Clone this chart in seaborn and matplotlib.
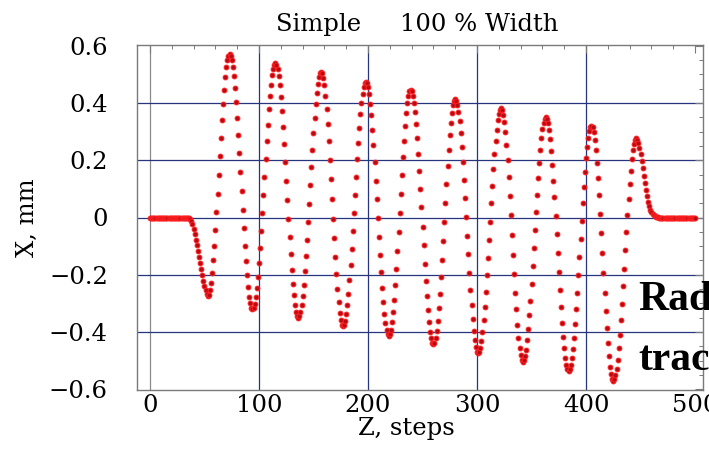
import numpy as np
import pandas as pd
import matplotlib
matplotlib.use("Agg")
import matplotlib.pyplot as plt
from matplotlib.ticker import MultipleLocator
import seaborn as sns

# 数据：每一步 Z 对应的 X（mm），从图上逐点读取
title = "Simple     100 % Width"
x_mm = [
    0, 0, 0, 0, 0, 0, 0, 0, 0, 0,
    0, 0, 0, 0, 0, 0, 0, 0, 0, 0,
    0, 0, 0, 0, 0, 0, 0, 0, 0, 0,
    0, 0, 0, 0, -0.001, -0.001, -0.002, -0.006, -0.013, -0.024,
    -0.040, -0.058, -0.077, -0.097, -0.117, -0.138, -0.159, -0.180, -0.201, -0.221,
    -0.239, -0.254, -0.266, -0.274, -0.269, -0.253, -0.228, -0.193, -0.150, -0.100,
    -0.044, 0.018, 0.082, 0.148, 0.214, 0.278, 0.340, 0.396, 0.446, 0.489,
    0.524, 0.549, 0.565, 0.570, 0.565, 0.550, 0.526, 0.493, 0.451, 0.403,
    0.348, 0.288, 0.224, 0.158, 0.092, 0.026, -0.038, -0.098, -0.153, -0.201,
    -0.243, -0.276, -0.300, -0.315, -0.320, -0.315, -0.301, -0.278, -0.245, -0.206,
    -0.159, -0.106, -0.048, 0.014, 0.077, 0.141, 0.204, 0.266, 0.324, 0.377,
    0.424, 0.463, 0.496, 0.519, 0.533, 0.538, 0.533, 0.518, 0.494, 0.461,
    0.420, 0.371, 0.316, 0.257, 0.193, 0.128, 0.061, -0.004, -0.068, -0.127,
    -0.182, -0.231, -0.272, -0.305, -0.329, -0.344, -0.349, -0.344, -0.330, -0.307,
    -0.274, -0.235, -0.188, -0.135, -0.077, -0.016, 0.048, 0.112, 0.176, 0.237,
    0.295, 0.348, 0.395, 0.434, 0.467, 0.490, 0.504, 0.509, 0.504, 0.487,
    0.461, 0.424, 0.379, 0.326, 0.266, 0.202, 0.134, 0.065, -0.005, -0.073,
    -0.137, -0.197, -0.250, -0.295, -0.332, -0.358, -0.375, -0.380, -0.375, -0.361,
    -0.338, -0.306, -0.266, -0.219, -0.167, -0.109, -0.048, 0.015, 0.079, 0.142,
    0.203, 0.261, 0.313, 0.360, 0.400, 0.432, 0.455, 0.469, 0.474, 0.469,
    0.454, 0.430, 0.397, 0.356, 0.307, 0.252, 0.193, 0.129, 0.064, -0.003,
    -0.068, -0.132, -0.191, -0.246, -0.295, -0.336, -0.369, -0.393, -0.408, -0.413,
    -0.408, -0.392, -0.366, -0.331, -0.287, -0.236, -0.179, -0.117, -0.051, 0.016,
    0.083, 0.149, 0.211, 0.268, 0.319, 0.363, 0.398, 0.424, 0.440, 0.445,
    0.440, 0.425, 0.401, 0.368, 0.327, 0.278, 0.223, 0.164, 0.100, 0.035,
    -0.032, -0.097, -0.161, -0.220, -0.275, -0.324, -0.365, -0.398, -0.422, -0.437,
    -0.442, -0.437, -0.421, -0.395, -0.360, -0.317, -0.266, -0.209, -0.147, -0.081,
    -0.015, 0.052, 0.118, 0.180, 0.236, 0.288, 0.331, 0.366, 0.392, 0.408,
    0.413, 0.408, 0.393, 0.369, 0.336, 0.295, 0.246, 0.192, 0.132, 0.069,
    0.003, -0.063, -0.129, -0.192, -0.252, -0.306, -0.355, -0.396, -0.429, -0.453,
    -0.468, -0.473, -0.468, -0.454, -0.431, -0.399, -0.359, -0.312, -0.260, -0.202,
    -0.141, -0.078, -0.014, 0.049, 0.110, 0.168, 0.220, 0.267, 0.307, 0.339,
    0.362, 0.376, 0.381, 0.376, 0.359, 0.333, 0.297, 0.252, 0.199, 0.140,
    0.076, 0.008, -0.061, -0.130, -0.198, -0.262, -0.321, -0.374, -0.419, -0.455,
    -0.481, -0.498, -0.503, -0.498, -0.484, -0.461, -0.429, -0.389, -0.342, -0.290,
    -0.232, -0.171, -0.108, -0.045, 0.018, 0.079, 0.137, 0.189, 0.236, 0.276,
    0.308, 0.331, 0.345, 0.350, 0.345, 0.330, 0.306, 0.273, 0.232, 0.184,
    0.129, 0.070, 0.006, -0.059, -0.125, -0.190, -0.254, -0.313, -0.368, -0.416,
    -0.457, -0.490, -0.514, -0.529, -0.534, -0.529, -0.515, -0.492, -0.460, -0.420,
    -0.373, -0.321, -0.263, -0.202, -0.139, -0.075, -0.012, 0.049, 0.107, 0.159,
    0.206, 0.246, 0.278, 0.301, 0.315, 0.320, 0.315, 0.298, 0.272, 0.235,
    0.190, 0.137, 0.077, 0.013, -0.055, -0.125, -0.194, -0.262, -0.326, -0.386,
    -0.439, -0.484, -0.521, -0.547, -0.564, -0.569, -0.564, -0.550, -0.527, -0.496,
    -0.456, -0.410, -0.358, -0.301, -0.240, -0.178, -0.114, -0.052, 0.009, 0.066,
    0.118, 0.164, 0.203, 0.235, 0.258, 0.272, 0.277, 0.272, 0.260, 0.243,
    0.222, 0.198, 0.172, 0.146, 0.120, 0.096, 0.074, 0.055, 0.039, 0.027,
    0.018, 0.011, 0.007, 0.004, 0.002, 0.001, 0.001, 0, 0, 0,
    0, 0, 0, 0, 0, 0, 0, 0, 0, 0,
    0, 0, 0, 0, 0, 0, 0, 0, 0, 0,
    0, 0, 0, 0, 0, 0, 0, 0, 0, 0,
    0,
]
z_steps = list(range(len(x_mm)))  # Z = 0 .. 500 steps
x_ticks = [0, 100, 200, 300, 400, 500]
y_ticks = [-0.6, -0.4, -0.2, 0, 0.2, 0.4, 0.6]
y_ticklabels = ["\u22120.6", "\u22120.4", "\u22120.2", "0", "0.2", "0.4", "0.6"]
side_text = ["Rad", "trac"]

df = pd.DataFrame({"Z": z_steps, "X": x_mm})

sns.set_style("white")
plt.rcParams['font.family'] = ['DejaVu Serif']
plt.rcParams['axes.unicode_minus'] = True
plt.rcParams['text.color'] = 'black'
plt.rcParams['xtick.labelcolor'] = 'black'
plt.rcParams['ytick.labelcolor'] = 'black'

fig = plt.figure(figsize=(7.09, 4.57), dpi=100)
ax = fig.add_axes([137/709, 1-390/457, 566/709, 345/457])

# 网格线（深蓝），Z=0 处为灰线
for v in x_ticks[1:-1]:
    ax.axvline(v, color='#26357d', lw=0.9, zorder=0)
ax.axvline(0, color='#8a8a8a', lw=0.9, zorder=0)
for v in y_ticks[1:-1]:
    ax.axhline(v, color='#26357d', lw=0.9, zorder=0)

sns.scatterplot(data=df, x="Z", y="X", ax=ax, s=12, color='#b80a14',
                edgecolor='#ff2020', linewidth=0.7, legend=False, zorder=3)

ax.set_xlim(-11.9, 507.3)
ax.set_ylim(-0.602, 0.602)
ax.set_xticks(x_ticks)
ax.set_yticks(y_ticks)
ax.set_yticklabels(y_ticklabels)
ax.xaxis.set_minor_locator(MultipleLocator(20))
ax.yaxis.set_minor_locator(MultipleLocator(0.05))
ax.tick_params(which='both', direction='in', top=True, right=True, color='#7a7a7a',
               labelcolor='black')
ax.tick_params(which='major', length=6, width=0.8, labelsize=17.5)
ax.tick_params(which='minor', length=3, width=0.7)
ax.tick_params(axis='y', pad=21)
ax.tick_params(axis='x', pad=3)
for sp in ax.spines.values():
    sp.set_color('#7a7a7a')
    sp.set_linewidth(1.0)
ax.set_xlabel("")
ax.set_ylabel("")

fig.text(417/709, 1-31/457, title, ha='center', va='baseline', fontsize=17.5, color='black')
fig.text(406/709, 1-435/457, "Z, steps", ha='center', va='baseline', fontsize=17.5, color='black')
fig.text(27/709, 1-218/457, "X, mm", ha='center', va='center', rotation=90, fontsize=17.5,
         color='black')

# 右侧被截断的粗体文字
fig.text(638/709, 1-310/457, side_text[0], ha='left', va='baseline', fontsize=30,
         fontweight='bold', color='black', family=['Liberation Serif', 'DejaVu Serif'])
fig.text(638/709, 1-370/457, side_text[1], ha='left', va='baseline', fontsize=30,
         fontweight='bold', color='black', family=['Liberation Serif', 'DejaVu Serif'])

fig.savefig("out.png", dpi=100)
